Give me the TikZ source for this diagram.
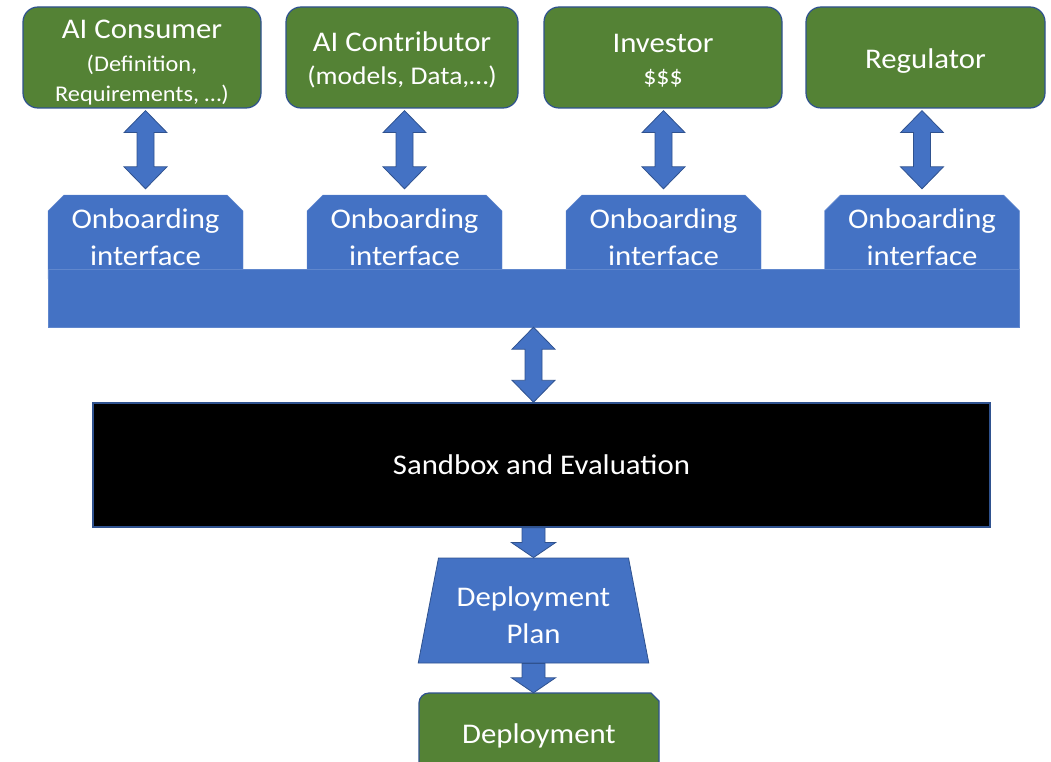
\documentclass[tikz,border=0pt]{standalone}
\usepackage{fontspec}
\setmainfont{Carlito}[FakeStretch=1.08]
\usetikzlibrary{calc}
\usetikzlibrary{shapes.geometric}
\usetikzlibrary{shapes.misc}
\definecolor{actorgreen}{HTML}{548235}
\definecolor{hubblue}{HTML}{4472C4}
\definecolor{rimblue}{HTML}{2F528F}
\newcommand{\bigtext}{\fontsize{28.5}{37}\selectfont}
\newcommand{\lift}[1]{\rule{0pt}{#1}} % pushes a text block down in its box
\def\headw{21.5pt}\def\shaftw{8.5pt}\def\headl{22pt} % double arrow sizes
\def\dheadw{22pt}\def\dshaftw{11.5pt}\def\dheadl{15pt} % down arrow sizes
\newcommand{\twoway}[2]{\path[block arrow] let \p1=(#1), \p2=(#2) in
  (\x1,\y1) -- (\x1+\headw,\y1-\headl) -- (\x1+\shaftw,\y1-\headl) -- (\x1+\shaftw,\y2+\headl) -- (\x1+\headw,\y2+\headl) -- (\x1,\y2)
  -- (\x1-\headw,\y2+\headl) -- (\x1-\shaftw,\y2+\headl) -- (\x1-\shaftw,\y1-\headl) -- (\x1-\headw,\y1-\headl) -- cycle;}
\newcommand{\oneway}[2]{\path[block arrow] let \p1=(#1), \p2=(#2) in
  (\x1-\dshaftw,\y1) -- (\x1+\dshaftw,\y1) -- (\x1+\dshaftw,\y2+\dheadl) -- (\x1+\dheadw,\y2+\dheadl) -- (\x1,\y2)
  -- (\x1-\dheadw,\y2+\dheadl) -- (\x1-\dshaftw,\y2+\dheadl) -- cycle;}
\begin{document}
\begin{tikzpicture}[x=1pt,y=-1pt,
                    actor box/.style={
                        draw=rimblue,
                        line width=1.2pt,
                        fill=actorgreen,
                        rounded corners=15pt,
                        text=white,
                        align=center,
                        inner sep=0pt,
                        minimum height=101pt,
                        font=\bigtext},
                    onboard tab/.style={chamfered rectangle, chamfered rectangle corners={north west,north east},
                        chamfered rectangle xsep=8pt, chamfered rectangle ysep=8pt,
                        fill=hubblue, draw=hubblue!85!white, inner sep=0pt,
                        minimum width=195pt, minimum height=84pt,
                        text=white, align=center, font=\bigtext},
                    block arrow/.style={fill=hubblue, draw=rimblue, line width=0.8pt}]
\useasboundingbox (0,0) rectangle (1051,762); % keep the page size of the reference
% the four parties on top
\node[actor box, minimum width=238pt] (consumer) at (142,57.5) {\lift{28.5pt}AI Consumer\\[-4pt]{\fontsize{22.5}{25}\selectfont (Definition,}\\[-7pt]{\fontsize{22.5}{25}\selectfont Requirements, …)}};
\node[actor box, minimum width=232pt] (contributor) at (402,57.5) {\lift{24pt}AI Contributor\\[-4pt]{\fontsize{25.5}{30}\selectfont (models, Data,…)}};
\node[actor box, minimum width=238pt] (investor) at (663,57.5) {\lift{24pt}Investor\\[-5pt]{\fontsize{24}{26}\selectfont \$\$\$}};
\node[actor box, minimum width=239pt] (regulator) at (925.5,57.5) {\lift{27pt}Regulator};
% the tabs, their lower part is hidden under the bar
\node[onboard tab] (consumer-if) at (145.5,237) {Onboarding\\interface};
\node[onboard tab] (contributor-if) at (404.5,237) {Onboarding\\interface};
\node[onboard tab] (investor-if) at (663.5,237) {Onboarding\\interface};
\node[onboard tab] (regulator-if) at (922,237) {Onboarding\\interface};
\node[fill=hubblue, draw=hubblue!85!white, minimum width=971pt, minimum height=58pt, inner sep=0pt] (platform) at (533.5,298) {};
% two way arrows between parties and tabs
\twoway{$(consumer.south -| consumer-if.north)+(0,2)$}{$(consumer-if.north)+(0,-6)$}
\twoway{$(contributor.south -| contributor-if.north)+(0,2)$}{$(contributor-if.north)+(0,-6)$}
\twoway{$(investor.south -| investor-if.north)+(0,2)$}{$(investor-if.north)+(0,-6)$}
\twoway{$(regulator.south -| regulator-if.north)+(0,2)$}{$(regulator-if.north)+(0,-6)$}
% sandbox
\node[fill=black, draw=rimblue, line width=1.5pt, minimum width=897pt, minimum height=124pt, text=white, font=\bigtext] (sandbox) at (541.5,465) {Sandbox and Evaluation};
\twoway{platform.south}{platform.south |- sandbox.north}
% plan and deployment
\node[trapezium, trapezium left angle=76.3, trapezium right angle=76.3, trapezium stretches=true,
      minimum width=231pt, minimum height=105pt, inner sep=0pt, fill=hubblue, draw=rimblue, line width=0.8pt,
      text=white, align=center, font=\bigtext] (plan) at (533.5,610.5) {\lift{30pt}Deployment\\Plan};
\draw[fill=actorgreen, draw=rimblue, line width=1.2pt] (419,790) [rounded corners=10pt] -- (419,693) [sharp corners] -- (651,693) -- (659,701) -- (659,790) -- cycle; % only the top of this box shows
\node[minimum width=240pt, minimum height=78pt, text=white, font=\bigtext] (deploy) at (539,732) {\lift{27pt}Deployment};
\oneway{plan.north |- sandbox.south}{plan.north}
\oneway{plan.south}{plan.south |- deploy.north}
\end{tikzpicture}
\end{document}
